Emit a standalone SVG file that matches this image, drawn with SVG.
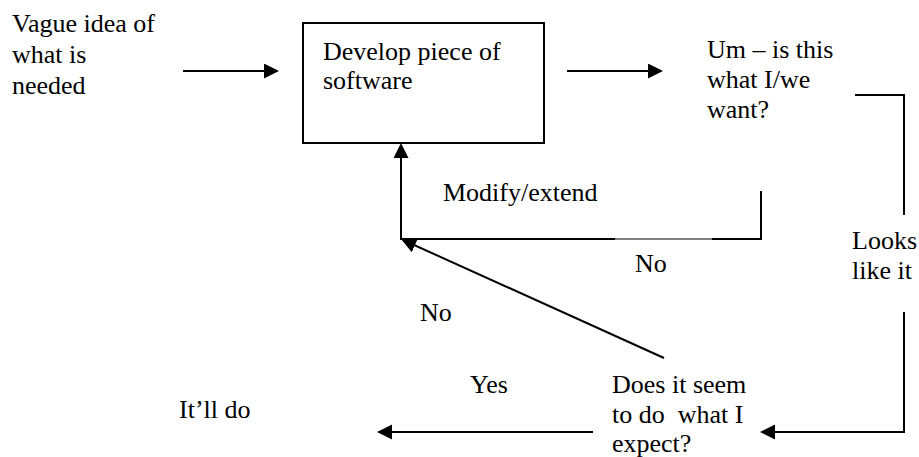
<svg xmlns="http://www.w3.org/2000/svg" width="919" height="457" viewBox="0 0 919 457">
  <style>
    .t { font-family: "Liberation Serif", "Times New Roman", serif; font-size: 26px; fill: #000; white-space: pre; }
    .ln { stroke: #000; stroke-width: 2; fill: none; }
    .thin { stroke: #000; stroke-width: 1.2; fill: none; }
  </style>
  <defs>
    <marker id="arr" markerUnits="userSpaceOnUse" markerWidth="16" markerHeight="16" refX="13" refY="7.5" orient="auto">
      <path d="M0,0 L15,7.5 L0,15 z" fill="#000"/>
    </marker>
  </defs>
  <rect width="919" height="457" fill="#fff"/>

  <g font-family="Liberation Serif, Times New Roman, serif" font-size="26" fill="#000">
  <g id="start">
    <text class="t" x="12" y="32">Vague idea of</text>
    <text class="t" x="12" y="63">what is</text>
    <text class="t" x="12" y="94">needed</text>
  </g>

  <g id="develop">
    <rect x="303" y="23" width="241" height="120" class="ln"/>
    <text class="t" x="323" y="60">Develop piece of</text>
    <text class="t" x="323" y="89">software</text>
  </g>

  <g id="question">
    <text class="t" x="707" y="58">Um – is this</text>
    <text class="t" x="707" y="88">what I/we</text>
    <text class="t" x="707" y="118">want?</text>
  </g>

  <g id="expect">
    <text class="t" x="612" y="393">Does it seem</text>
    <text class="t" x="612" y="423" xml:space="preserve">to do  what I</text>
    <text class="t" x="612" y="452">expect?</text>
  </g>

  <g id="done">
    <text class="t" x="179" y="418">It’ll do</text>
  </g>

  <g id="labels">
    <text class="t" x="443" y="201">Modify/extend</text>
    <text class="t" x="635" y="272">No</text>
    <text class="t" x="420" y="321">No</text>
    <text class="t" x="852" y="249">Looks</text>
    <text class="t" x="852" y="279">like it</text>
    <text class="t" x="470" y="393">Yes</text>
  </g>
  </g>

  <g id="connectors">
    <line x1="183" y1="71" x2="277" y2="71" class="ln" marker-end="url(#arr)"/>
    <line x1="567" y1="71" x2="661" y2="71" class="ln" marker-end="url(#arr)"/>
    <polyline points="855,95 904,95 904,215" class="ln"/>
    <polyline points="904,312 904,432 762,432" class="ln" marker-end="url(#arr)"/>
    <line x1="593" y1="432" x2="379" y2="432" class="ln" marker-end="url(#arr)"/>
    <polyline points="761,191 761,239 712,239" class="ln"/>
    <line x1="712" y1="239" x2="615" y2="239" class="thin"/>
    <polyline points="615,239 401,239 401,145" class="ln" marker-end="url(#arr)"/>
    <line x1="664" y1="358" x2="403" y2="240" class="ln" marker-end="url(#arr)"/>
  </g>
</svg>
